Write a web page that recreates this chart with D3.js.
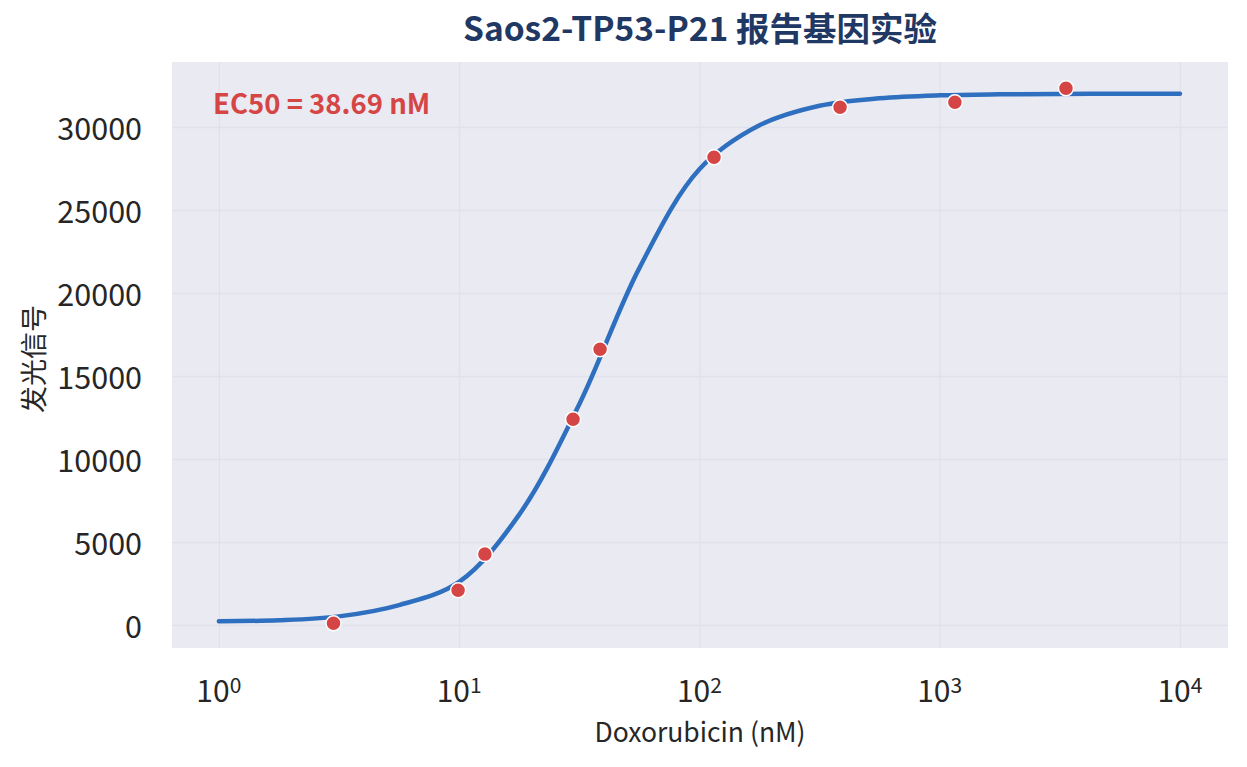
<!DOCTYPE html>
<html>
<head>
<meta charset="utf-8">
<script src="https://cdn.jsdelivr.net/npm/d3@7"></script>
<style>
  body { margin: 0; background: #fff; }
  text { font-family: "Noto Sans CJK SC", "Noto Sans", sans-serif; }
</style>
</head>
<body>
<svg id="chart"></svg>
<script>
// measured points (nM, signal)
var conc = [3, 9.9, 12.8, 29.8, 38.6, 115, 385, 1157, 3354];
var signal = [100, 2090, 4270, 12390, 16610, 28175, 31190, 31490, 32330];
// fitted curve (log10 nM, signal)
var curveLog = [0, 0.25, 0.5, 0.75, 1, 1.25, 1.5, 1.75, 2, 2.25, 2.5, 2.75, 3, 3.25, 3.5, 3.75, 4];
var curveVal = [229, 285, 520, 1200, 2600, 6650, 13300, 21500, 27450, 30100, 31280, 31730, 31910, 31970, 31990, 32000, 32006];
var xTicks = [1, 10, 100, 1000, 10000];
var yTicks = [0, 5000, 10000, 15000, 20000, 25000, 30000];
var ec50 = 38.69;

width = 1247;
height = 767;
margin = {left: 172, right: 19, top: 62, bottom: 119};
pw = width - margin.left - margin.right;
ph = height - margin.top - margin.bottom;

svg = d3.select("#chart")
    .attr("width", width)
    .attr("height", height);

x = d3.scaleLog()
    .domain([Math.pow(10, -0.195), Math.pow(10, 4.2)])
    .range([0, pw]);
y = d3.scaleLinear()
    .domain([-1386, 33916])
    .range([ph, 0]);

chart = svg.append("g")
    .attr("transform", "translate(" + margin.left + "," + margin.top + ")");

chart.append("rect")
    .attr("width", pw)
    .attr("height", ph)
    .attr("fill", "#eaeaf2");

// grid
chart.append("g")
    .attr("transform", "translate(0," + ph + ")")
    .call(d3.axisBottom(x).tickValues(xTicks).tickSize(-ph).tickFormat(""))
    .call(g => g.select(".domain").remove())
    .selectAll("line").attr("stroke", "#e0e2eb").attr("stroke-width", 1.4);
chart.append("g")
    .call(d3.axisLeft(y).tickValues(yTicks).tickSize(-pw).tickFormat(""))
    .call(g => g.select(".domain").remove())
    .selectAll("line").attr("stroke", "#e0e2eb").attr("stroke-width", 1.4);

// y tick labels
chart.append("g")
    .call(d3.axisLeft(y).tickValues(yTicks).tickSize(0).tickPadding(30).tickFormat(d3.format("d")))
    .call(g => g.select(".domain").remove())
    .selectAll("text")
        .attr("fill", "#262626")
        .attr("dy", "0.4em")
        .style("font-size", "30.5px")
        .style("font-family", "'Noto Sans CJK SC', sans-serif");

// x tick labels with superscripts
xl = chart.append("g").selectAll("text")
    .data(xTicks)
    .enter().append("text")
        .attr("x", d => x(d))
        .attr("y", ph + 54)
        .attr("text-anchor", "middle")
        .attr("fill", "#262626")
        .style("font-size", "30px");
xl.append("tspan").text("10");
xl.append("tspan")
    .attr("dy", "-0.45em")
    .style("font-size", "21px")
    .text(d => Math.round(Math.log10(d)));

// curve
line = d3.line()
    .x((d, i) => x(Math.pow(10, d)))
    .y((d, i) => y(curveVal[i]))
    .curve(d3.curveCatmullRom.alpha(0.5));
chart.append("path")
    .datum(curveLog)
    .attr("d", line)
    .attr("fill", "none")
    .attr("stroke", "#2e6fbf")
    .attr("stroke-width", 4.5)
    .attr("stroke-linecap", "round");

// points
chart.append("g").selectAll("circle")
    .data(conc)
    .enter().append("circle")
        .attr("cx", d => x(d))
        .attr("cy", (d, i) => y(signal[i]))
        .attr("r", 7.5)
        .attr("fill", "#d64545")
        .attr("stroke", "#fff")
        .attr("stroke-width", 1.5);

// EC50 annotation
chart.append("text")
    .attr("x", 41)
    .attr("y", 52)
    .attr("fill", "#d64545")
    .style("font-size", "27.5px")
    .style("font-weight", "bold")
    .text("EC50 = " + ec50.toFixed(2) + " nM");

// title and axis labels
svg.append("text")
    .attr("x", margin.left + pw / 2)
    .attr("y", 41)
    .attr("text-anchor", "middle")
    .attr("fill", "#1f3864")
    .style("font-size", "33.5px")
    .style("font-weight", "bold")
    .text("Saos2-TP53-P21 报告基因实验");
svg.append("text")
    .attr("x", margin.left + pw / 2)
    .attr("y", 742)
    .attr("text-anchor", "middle")
    .attr("fill", "#262626")
    .style("font-size", "26.5px")
    .text("Doxorubicin (nM)");
svg.append("text")
    .attr("transform", "translate(44,359) rotate(-90)")
    .attr("text-anchor", "middle")
    .attr("fill", "#262626")
    .style("font-size", "27px")
    .text("发光信号");
</script>
</body>
</html>
